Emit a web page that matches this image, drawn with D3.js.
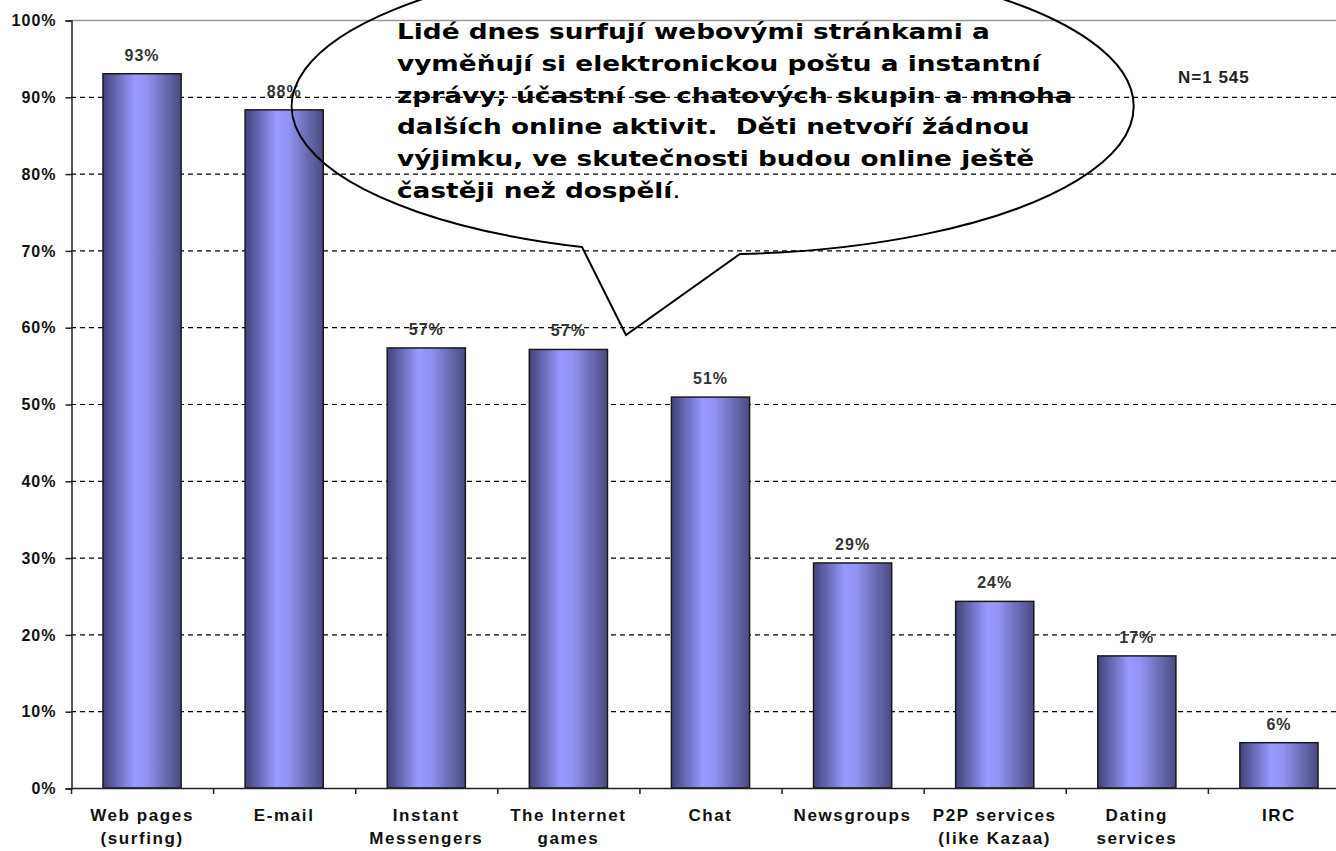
<!DOCTYPE html>
<html>
<head>
<meta charset="utf-8">
<script src="https://cdn.jsdelivr.net/npm/d3@7"></script>
<style>
  body { margin: 0; background: #fff; }
  svg { display: block; }
</style>
</head>
<body>
<div class="container"></div>
<script>
// data
var categories = [
  ['Web pages', '(surfing)'],
  ['E-mail'],
  ['Instant', 'Messengers'],
  ['The Internet', 'games'],
  ['Chat'],
  ['Newsgroups'],
  ['P2P services', '(like Kazaa)'],
  ['Dating', 'services'],
  ['IRC']
];
var values = [93.0, 88.3, 57.3, 57.1, 50.9, 29.3, 24.3, 17.2, 5.9];
var valueLabels = ['93%', '88%', '57%', '57%', '51%', '29%', '24%', '17%', '6%'];
var yTicks = [0, 10, 20, 30, 40, 50, 60, 70, 80, 90, 100];
var sampleNote = 'N=1 545';
var calloutLines = [
  'Lidé dnes surfují webovými stránkami a',
  'vyměňují si elektronickou poštu a instantní',
  'zprávy; účastní se chatových skupin a mnoha',
  'dalších online aktivit.  Děti netvoří žádnou',
  'výjimku, ve skutečnosti budou online ještě',
  'častěji než dospělí'
];

const WIDTH = 1336;
const HEIGHT = 851;
const LEFT = 71, RIGHT = 1350, TOP = 20, BOTTOM = 788;

var svg = d3.select('.container').append('svg')
  .attr('width', WIDTH)
  .attr('height', HEIGHT);

var keys = categories.map(function(c){ return c.join(' '); });

var xScale = d3.scaleBand()
  .domain(keys)
  .range([LEFT, RIGHT])
  .paddingInner(0.45)
  .paddingOuter(0.225);

var yScale = d3.scaleLinear()
  .domain([0, 100])
  .range([BOTTOM, TOP]);

// bar gradient
var grad = svg.append('defs').append('linearGradient')
  .attr('id', 'barGrad')
  .attr('x1', '0%').attr('x2', '100%').attr('y1', '0%').attr('y2', '0%');
grad.append('stop').attr('offset', '0%').attr('stop-color', '#42427a');
grad.append('stop').attr('offset', '40%').attr('stop-color', '#9999ff');
grad.append('stop').attr('offset', '55%').attr('stop-color', '#9393f3');
grad.append('stop').attr('offset', '100%').attr('stop-color', '#4a4a80');

// gridlines
svg.append('g')
  .selectAll('line')
  .data(yTicks.filter(function(t){ return t > 0 && t < 100; }))
  .join('line')
  .attr('x1', LEFT).attr('x2', WIDTH)
  .attr('y1', function(t){ return yScale(t) + 0.5; })
  .attr('y2', function(t){ return yScale(t) + 0.5; })
  .attr('stroke', '#000')
  .attr('stroke-width', 1.2)
  .attr('stroke-dasharray', '5,4');

svg.append('line')
  .attr('x1', LEFT).attr('x2', WIDTH)
  .attr('y1', yScale(100) + 0.5).attr('y2', yScale(100) + 0.5)
  .attr('stroke', '#999')
  .attr('stroke-width', 1.5);

// bars
svg.append('g')
  .selectAll('rect')
  .data(values)
  .join('rect')
  .attr('x', function(v, i){ return xScale(keys[i]); })
  .attr('y', function(v){ return yScale(v); })
  .attr('width', xScale.bandwidth())
  .attr('height', function(v){ return yScale(0) - yScale(v); })
  .attr('fill', 'url(#barGrad)')
  .attr('stroke', '#1a1a1a')
  .attr('stroke-width', 1.5);

// value labels
svg.append('g')
  .selectAll('text')
  .data(values)
  .join('text')
  .attr('x', function(v, i){ return xScale(keys[i]) + xScale.bandwidth() / 2; })
  .attr('y', function(v){ return yScale(v) - 13; })
  .attr('text-anchor', 'middle')
  .attr('font-family', 'Arial, "Liberation Sans", sans-serif')
  .attr('font-weight', 'bold')
  .attr('font-size', 16)
  .attr('letter-spacing', 1)
  .attr('fill', '#333')
  .text(function(v, i){ return valueLabels[i]; });

// y axis
var yAxis = d3.axisLeft(yScale)
  .tickValues(yTicks)
  .tickSize(6)
  .tickPadding(9)
  .tickFormat(function(d){ return d + '%'; });

var gy = svg.append('g')
  .attr('transform', 'translate(' + (LEFT + 0.5) + ',0.5)')
  .call(yAxis);
gy.select('.domain').attr('stroke', '#222').attr('stroke-width', 1.5);
gy.selectAll('.tick line').attr('stroke', '#222').attr('stroke-width', 1.5);
gy.selectAll('.tick text')
  .attr('font-family', 'Arial, "Liberation Sans", sans-serif')
  .attr('font-weight', 'bold')
  .attr('font-size', 16)
  .attr('letter-spacing', 1)
  .attr('fill', '#111');

// x axis line and category boundary ticks
var step = xScale.step();
var x0 = xScale(keys[0]) - (step - xScale.bandwidth()) / 2;
svg.append('line')
  .attr('x1', LEFT).attr('x2', WIDTH)
  .attr('y1', BOTTOM + 0.5).attr('y2', BOTTOM + 0.5)
  .attr('stroke', '#222').attr('stroke-width', 1.5);
svg.append('g')
  .selectAll('line')
  .data(d3.range(keys.length + 1))
  .join('line')
  .attr('x1', function(i){ return x0 + i * step + 0.5; })
  .attr('x2', function(i){ return x0 + i * step + 0.5; })
  .attr('y1', BOTTOM).attr('y2', BOTTOM + 6)
  .attr('stroke', '#222').attr('stroke-width', 1.5);

// category labels
var cat = svg.append('g')
  .selectAll('text')
  .data(categories)
  .join('text')
  .attr('x', function(c, i){ return xScale(keys[i]) + xScale.bandwidth() / 2; })
  .attr('y', 821)
  .attr('text-anchor', 'middle')
  .attr('font-family', 'Arial, "Liberation Sans", sans-serif')
  .attr('font-weight', 'bold')
  .attr('font-size', 17)
  .attr('letter-spacing', 1.6)
  .attr('fill', '#111');
cat.selectAll('tspan')
  .data(function(c){ return c; })
  .join('tspan')
  .attr('x', function(){ return this.parentNode.getAttribute('x'); })
  .attr('dy', function(d, i){ return i === 0 ? 0 : 23; })
  .text(function(d){ return d; });

// sample size note
svg.append('text')
  .attr('x', 1178).attr('y', 83)
  .attr('font-family', 'Arial, "Liberation Sans", sans-serif')
  .attr('font-weight', 'bold')
  .attr('font-size', 17)
  .attr('letter-spacing', 1)
  .attr('fill', '#222')
  .text(sampleNote);

// callout bubble
var ell = {cx: 721, cy: 107, rx: 421, ry: 148};
var tailL = [582, 247], tip = [626, 335], tailR = [740, 254];
svg.append('path')
  .attr('d', 'M' + tailL + 'L' + tip + 'L' + tailR +
    'A' + ell.rx + ',' + ell.ry + ' 0 1 0 ' + tailL + 'Z')
  .attr('fill', 'none')
  .attr('stroke', '#000')
  .attr('stroke-width', 2);

var TEXT_X = 397, TEXT_W = 593;
var ct = svg.append('g')
  .attr('font-family', '"DejaVu Sans", Verdana, sans-serif')
  .attr('font-weight', 'bold')
  .attr('font-size', 22)
  .attr('fill', '#000');
var lines = calloutLines.map(function(line, i){
  var t = ct.append('text')
    .attr('x', 0)
    .attr('y', 39 + i * 31.8)
    .text(line.replace(/  /g, ' \u00a0'));   // keep the double space
  if (i === calloutLines.length - 1) {
    t.append('tspan').attr('font-weight', 'normal').text('.');
  }
  return t;
});
// stretch horizontally so the first line spans the same width as in the picture
var sx = TEXT_W / lines[0].node().getComputedTextLength();
ct.attr('transform', 'translate(' + TEXT_X + ',0) scale(' + sx + ',1)');
</script>
</body>
</html>
